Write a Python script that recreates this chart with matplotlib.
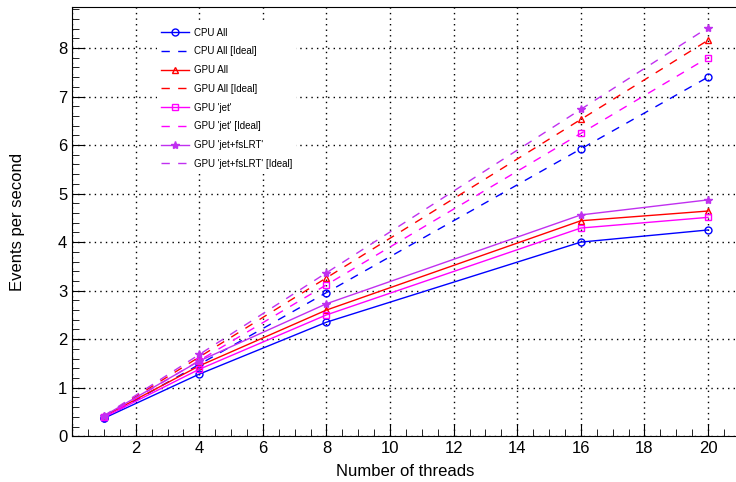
import matplotlib.pyplot as plt
import numpy as np
from matplotlib.ticker import MultipleLocator, FuncFormatter

plt.rcParams['font.family'] = ['Liberation Sans', 'DejaVu Sans']

threads = [1, 4, 8, 16, 20]
cpu_all = [0.37, 1.28, 2.35, 4.00, 4.25]
gpu_all = [0.41, 1.45, 2.60, 4.44, 4.64]
gpu_jet = [0.39, 1.38, 2.50, 4.29, 4.51]
gpu_jet_fslrt = [0.42, 1.55, 2.73, 4.56, 4.87]

# ideal scaling: single-thread rate times number of threads
cpu_all_ideal = [0.37, 1.48, 2.96, 5.92, 7.40]
gpu_all_ideal = [0.408, 1.632, 3.264, 6.528, 8.16]
gpu_jet_ideal = [0.39, 1.56, 3.12, 6.24, 7.80]
gpu_jet_fslrt_ideal = [0.421, 1.684, 3.368, 6.736, 8.42]

names = ["CPU All", "GPU All", "GPU 'jet'", "GPU 'jet+fsLRT'"]
real = [cpu_all, gpu_all, gpu_jet, gpu_jet_fslrt]
ideal = [cpu_all_ideal, gpu_all_ideal, gpu_jet_ideal, gpu_jet_fslrt_ideal]
colors = ['#0000ff', '#ff0000', '#ff00ff', '#c030f0']
markers = ['o', '^', 's', '*']

fig = plt.figure(figsize=(7.36, 4.82), dpi=100)
ax = fig.add_axes([0.098, 0.095, 0.905, 0.891])

for n, r, i, c, m in zip(names, real, ideal, colors, markers):
    fc = c if m == '*' else 'none'
    ms = 6 if m == '*' else 5
    ax.plot(threads, r, color=c, lw=1, marker=m, ms=ms, mfc=fc, mec=c,
            mew=1, label=n)
    ax.plot(threads, i, color=c, lw=1, ls=(0, (6, 6)), label=n + ' [Ideal]')
    ax.plot(threads, i, color=c, lw=0, marker=m, ms=ms, mfc=fc, mec=c, mew=1)

ax.set_xlim(0, 20.95)
ax.set_ylim(0, 8.85)
ax.xaxis.set_major_locator(MultipleLocator(2))
ax.xaxis.set_minor_locator(MultipleLocator(0.5))
ax.xaxis.set_major_formatter(FuncFormatter(lambda v, p: '' if v == 0 else '%d' % v))
ax.yaxis.set_major_locator(MultipleLocator(1))
ax.yaxis.set_minor_locator(MultipleLocator(0.2))
ax.tick_params(which='both', direction='in', labelsize=12, top=False, right=False)
ax.tick_params(which='major', length=9)
ax.tick_params(which='minor', length=5)
ax.grid(True, which='major', color='black', ls=(0, (1, 3)), lw=1)

ax.set_xlabel('Number of threads', fontsize=12, labelpad=6)
ax.set_ylabel('Events per second', fontsize=12, labelpad=24)

leg = ax.legend(loc='upper left', bbox_to_anchor=(0.12, 0.972), frameon=True,
                fontsize=7, handlelength=2.9, labelspacing=0.9, handletextpad=0.5,
                fancybox=False, framealpha=1, facecolor='white', edgecolor='none')

plt.savefig('out.png', dpi=100)
